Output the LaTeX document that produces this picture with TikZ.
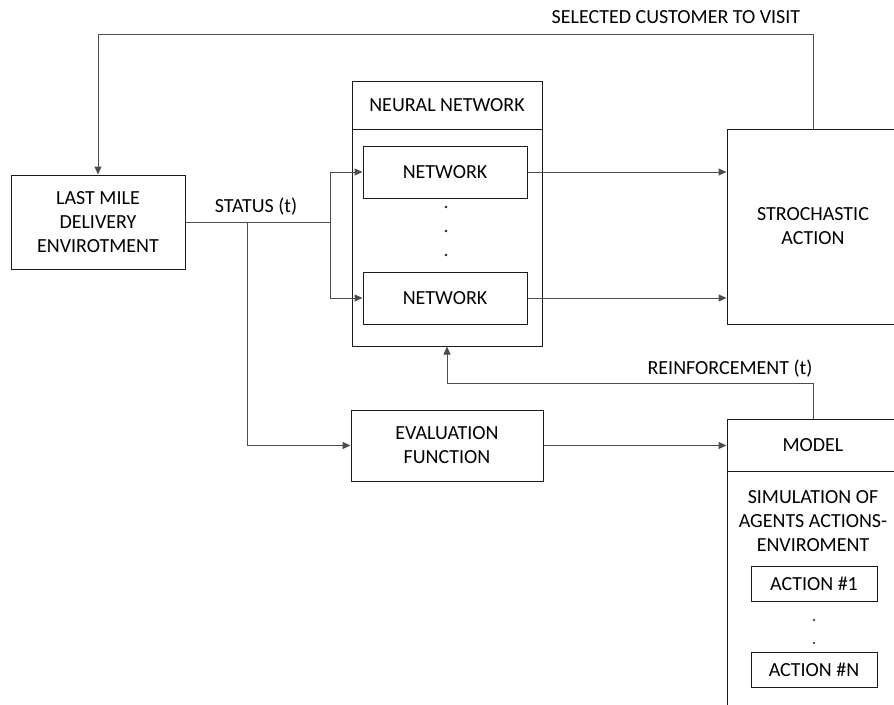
\documentclass[tikz,border=0pt]{standalone}
\usepackage{fontspec}
\setmainfont{Carlito}
\usetikzlibrary{arrows.meta,positioning,calc}
\definecolor{dark}{HTML}{1A1A1A}
\definecolor{wirecol}{HTML}{4D4D4D}
\tikzset{
  box/.style={draw=dark, line width=1pt, align=center, inner sep=0pt, font=\fontsize{20}{24}\selectfont},
  lbl/.style={align=center, inner sep=0pt, font=\fontsize{20}{24}\selectfont},
  rule/.style={draw=dark, line width=1pt},
  wire/.style={draw=wirecol, line width=1pt},
  arrow/.style={wire, -{Triangle[length=8pt,width=7pt]}}
}

\begin{document}
\begin{tikzpicture}[x=1pt, y=-1pt]
  \useasboundingbox (0,0) rectangle (894,704);
  \fill[white] (0,0) rectangle (894,704);
  \clip (0,0) rectangle (894,704);
  % boxes
  \node[box, minimum width=174pt, minimum height=94pt] (env) at (98,222) {LAST MILE\\DELIVERY\\ENVIROTMENT};
  \node[box, minimum width=190pt, minimum height=265pt] (nn) at (447,213.5) {};
  \node[lbl] (nnhead) at (447,105) {NEURAL NETWORK};
  \draw[rule] (nn.west |- 0,129) -- (nn.east |- 0,129);
  \node[box, minimum width=164pt, minimum height=52pt] (net1) at (445,172) {NETWORK};
  \node[box, minimum width=164pt, minimum height=52pt] (net2) at (445,298) {NETWORK};
  \foreach \y in {207,231,255}
    \fill[dark] (446,\y) circle (1.3pt);
  \node[box, minimum width=172pt, minimum height=195pt] (sto) at (813,226.5) {STROCHASTIC\\ACTION};
  \node[box, minimum width=192pt, minimum height=71pt] (eval) at (447,445.5) {EVALUATION\\FUNCTION};
  \node[box, minimum width=182pt, minimum height=341pt] (model) at (818,589.5) {};
  \draw[rule] (model.west |- 0,471) -- (model.east |- 0,471);
  \node[lbl] (modelhead) at (813,445) {MODEL};
  \node[lbl] (sim) at (813,521) {SIMULATION OF\\AGENTS ACTIONS-\\ENVIROMENT};
  \node[box, minimum width=126pt, minimum height=35pt] (act1) at (814,583.5) {ACTION \#1};
  \node[box, minimum width=126pt, minimum height=35pt] (actn) at (814,669.5) {ACTION \#N};
  \foreach \y in {620,643}
    \fill[dark] (814,\y) circle (1.1pt);
  % connectors
  \coordinate (split) at (330,222);
  \coordinate (tap) at (247,222);
  \coordinate (top) at (813,34);
  \coordinate (reinf) at (813,383);
  \draw[wire] (env.east) -- (split);
  \draw[arrow] (split) |- (net1.west);
  \draw[arrow] (split) |- (net2.west);
  \draw[arrow] (tap) |- (eval.west);
  \draw[arrow] (net1.east) -- (net1.east -| sto.west);
  \draw[arrow] (net2.east) -- (net2.east -| sto.west);
  \draw[arrow] (eval.east) -- (eval.east -| model.west);
  \draw[arrow] (sto.north) -- (top) -| (env.north);
  \draw[arrow] (reinf |- model.north) -- (reinf) -| (nn.south);
  % labels
  \node[lbl] (status) at (256,207) {STATUS (t)};
  \node[lbl] (visit) at (676,17) {SELECTED CUSTOMER TO VISIT};
  \node[lbl] (reinflbl) at (730,369) {REINFORCEMENT (t)};
\end{tikzpicture}
\end{document}
